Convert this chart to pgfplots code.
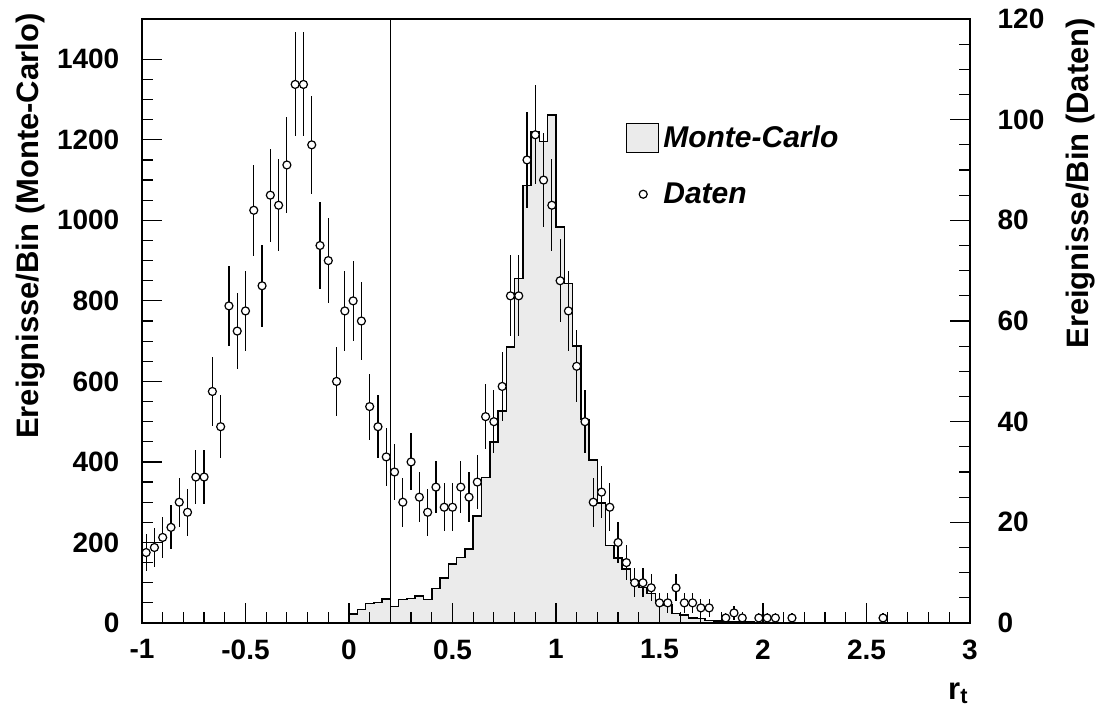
\documentclass[border=0pt]{standalone}
\usepackage{fontspec}
\setmainfont{Liberation Sans}
\usepackage{pgfplots}
\pgfplotsset{compat=1.18}
\usepackage{pgfplotstable}

% Daten: bin centre, events, error (sqrt N)
\pgfplotstableread{
x n e
-0.98 14 3.74
-0.94 15 3.87
-0.90 17 4.12
-0.86 19 4.36
-0.82 24 4.90
-0.78 22 4.69
-0.74 29 5.39
-0.70 29 5.39
-0.66 46 6.78
-0.62 39 6.24
-0.58 63 7.94
-0.54 58 7.62
-0.50 62 7.87
-0.46 82 9.06
-0.42 67 8.19
-0.38 85 9.22
-0.34 83 9.11
-0.30 91 9.54
-0.26 107 10.34
-0.22 107 10.34
-0.18 95 9.75
-0.14 75 8.66
-0.10 72 8.49
-0.06 48 6.93
-0.02 62 7.87
0.02 64 8.00
0.06 60 7.75
0.10 43 6.56
0.14 39 6.24
0.18 33 5.74
0.22 30 5.48
0.26 24 4.90
0.30 32 5.66
0.34 25 5.00
0.38 22 4.69
0.42 27 5.20
0.46 23 4.80
0.50 23 4.80
0.54 27 5.20
0.58 25 5.00
0.62 28 5.29
0.66 41 6.40
0.70 40 6.32
0.74 47 6.86
0.78 65 8.06
0.82 65 8.06
0.86 92 9.59
0.90 97 9.85
0.94 88 9.38
0.98 83 9.11
1.02 68 8.25
1.06 62 7.87
1.10 51 7.14
1.14 40 6.32
1.18 24 4.90
1.22 26 5.10
1.26 23 4.80
1.30 16 4.00
1.34 12 3.46
1.38 8 2.83
1.42 8 2.83
1.46 7 2.65
1.50 4 2.00
1.54 4 2.00
1.58 7 2.65
1.62 4 2.00
1.66 4 2.00
1.70 3 1.73
1.74 3 1.73
1.82 1 1.00
1.86 2 1.41
1.90 1 1.00
1.98 1 1.00
2.02 1 1.00
2.06 1 1.00
2.14 1 1.00
2.58 1 1.00
}\daten

% Monte-Carlo histogram: left bin edge, content
\pgfplotstableread{
x y
0.00 22
0.04 33
0.08 48
0.12 51
0.16 60
0.20 41
0.24 58
0.28 61
0.32 67
0.36 58
0.40 86
0.44 112
0.48 146
0.52 163
0.56 184
0.60 266
0.64 361
0.68 450
0.72 527
0.76 685
0.80 856
0.84 1087
0.88 1219
0.92 1196
0.96 1261
1.00 983
1.04 843
1.08 688
1.12 505
1.16 405
1.20 298
1.24 192
1.28 161
1.32 134
1.36 106
1.40 88
1.44 73
1.48 53
1.52 45
1.56 24
1.60 20
1.64 13
1.68 11
1.72 6
1.76 5
1.80 4
1.84 3
1.88 2
1.92 2
1.96 1
2.00 1
2.04 1
2.08 0
}\mc

\definecolor{mcfill}{gray}{0.92}

\begin{document}
\begin{tikzpicture}
\pgfplotsset{
  common/.style={
    scale only axis, width=414pt, height=302pt,
    at={(0pt,0pt)}, anchor=south west,
    xmin=-1, xmax=3,
    tick align=inside,
    major tick length=10pt, minor tick length=5.5pt,
    every tick/.style={black, line width=0.6pt},
    axis line style={line width=0.6pt},
    tick label style={font=\fontsize{14}{16}\selectfont\bfseries},
    /pgf/number format/assume math mode=true,
    /pgf/number format/1000 sep={},
  }
}
\begin{axis}[common,
  axis on top,
  ymin=0, ymax=1500,
  xtick={-1,-0.5,0,0.5,1,1.5,2,2.5,3},
  minor x tick num=4,
  ytick={0,200,400,600,800,1000,1200,1400},
  minor y tick num=3,
  xtick pos=bottom, ytick pos=left,
  yticklabel style={xshift=-7.8pt},
  xticklabel style={yshift=-4.8pt},
  xlabel={r\textsubscript{t}},
  ylabel={Ereignisse/Bin (Monte-Carlo)},
  every axis x label/.style={at={(axis description cs:0.986,-0.116)}, anchor=center, font=\fontsize{15.5}{18}\selectfont\bfseries},
  every axis y label/.style={at={(axis description cs:-0.135,0.657)}, anchor=center, rotate=90, font=\fontsize{15.5}{18}\selectfont\bfseries},
]
\addplot[const plot mark left, fill=mcfill, draw=black, line width=0.75pt] table[x=x, y=y] {\mc} \closedcycle;
\addplot[black, line width=0.5pt] coordinates {(0.2,0) (0.2,1500)};
\end{axis}

\begin{axis}[common,
  ymin=0, ymax=120,
  hide x axis,
  ytick={0,20,40,60,80,100,120},
  minor y tick num=3,
  ytick pos=right, yticklabel pos=right,
  yticklabel style={anchor=west, xshift=10.3pt},
  ylabel={Ereignisse/Bin (Daten)},
  every axis y label/.style={at={(axis description cs:1.134,0.728)}, anchor=center, rotate=90, font=\fontsize{15.5}{18}\selectfont\bfseries},
  legend style={at={(axis description cs:0.584,0.83)}, anchor=north west, draw=none, fill=none,
    inner sep=0pt, outer sep=0pt, row sep=12pt,
    font=\fontsize{15}{18}\selectfont\bfseries\itshape},
  legend cell align=left,
]
\addlegendimage{legend image code/.code={\draw[black, fill=mcfill, line width=0.6pt] (0pt,-7.3pt) rectangle (16.3pt,7.3pt);}}
\addlegendentry{Monte-Carlo}
\addplot[only marks, mark=*, mark size=2pt,
  mark options={fill=white, draw=black, line width=0.6pt},
  error bars/.cd, y dir=both, y explicit, error mark=none,
  error bar style={black, line width=0.6pt}]
  table[x=x, y=n, y error=e] {\daten};
\addlegendimage{legend image code/.code={\path (0pt,-7.3pt) rectangle (16.3pt,7.3pt); \draw[black, fill=white, line width=0.5pt] (5.75pt,0pt) circle (1.8pt);}}
\addlegendentry{Daten}
\end{axis}
\pgfresetboundingbox
\path (-71pt,-48.5pt) rectangle (479pt,311.5pt);
\end{tikzpicture}
\end{document}
